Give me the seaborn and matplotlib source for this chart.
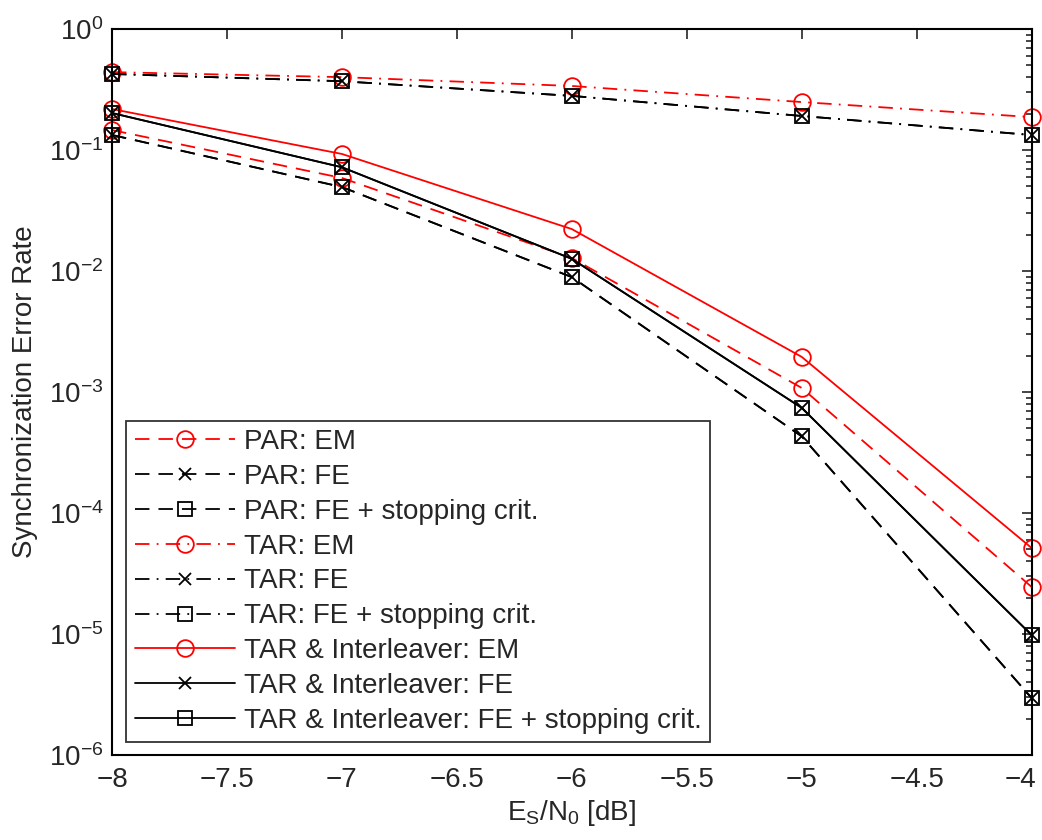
import numpy as np
import pandas as pd
import seaborn as sns
import matplotlib
matplotlib.use("Agg")
import matplotlib.pyplot as plt
import matplotlib.transforms as mtransforms
from matplotlib.ticker import LogLocator, NullFormatter

# SNR points (dB)
snr = [-8, -7, -6, -5, -4]

# synchronization error rates
par_em = [0.146, 0.0587, 0.0128, 1.08e-3, 2.45e-5]
par_fe = [0.133, 0.0494, 0.0089, 4.3e-4, 2.96e-6]
par_fe_stop = [0.133, 0.0494, 0.0089, 4.3e-4, 2.96e-6]
tar_em = [0.44, 0.40, 0.338, 0.249, 0.187]
tar_fe = [0.425, 0.37, 0.28, 0.191, 0.133]
tar_fe_stop = [0.425, 0.37, 0.28, 0.191, 0.133]
tari_em = [0.218, 0.0927, 0.0222, 1.95e-3, 5.14e-5]
tari_fe = [0.202, 0.072, 0.0126, 7.4e-4, 9.8e-6]
tari_fe_stop = [0.202, 0.072, 0.0126, 7.4e-4, 9.8e-6]

labels = ["PAR: EM", "PAR: FE", "PAR: FE + stopping crit.",
          "TAR: EM", "TAR: FE", "TAR: FE + stopping crit.",
          "TAR & Interleaver: EM", "TAR & Interleaver: FE",
          "TAR & Interleaver: FE + stopping crit."]
series = [par_em, par_fe, par_fe_stop, tar_em, tar_fe, tar_fe_stop,
          tari_em, tari_fe, tari_fe_stop]

# style per curve: color, linestyle, marker, markersize
dash = (0, (8, 5))
dashdot = (0, (8, 4, 1, 4))
styles = [("red", dash, "o", 12),
          ("black", dash, "x", 9),
          ("black", dash, "s", 10),
          ("red", dashdot, "o", 12),
          ("black", dashdot, "x", 9),
          ("black", dashdot, "s", 10),
          ("red", "-", "o", 12),
          ("black", "-", "x", 9),
          ("black", "-", "s", 10)]

sns.set_style("white")
plt.rcParams["font.family"] = ["Liberation Sans", "DejaVu Sans"]
plt.rcParams["mathtext.fontset"] = "custom"
plt.rcParams["mathtext.rm"] = "Liberation Sans"
plt.rcParams["mathtext.it"] = "Liberation Sans:italic"

fs = 20

fig = plt.figure(figsize=(10.42, 8.4), dpi=100)
ax = fig.add_axes([0.1075, 0.1012, 0.8825, 0.8643])

for lab, vals, (col, ls, mk, ms) in zip(labels, series, styles):
    df = pd.DataFrame({"snr": snr, "ser": vals})
    sns.lineplot(data=df, x="snr", y="ser", ax=ax, color=col, linestyle=ls,
                 marker=mk, markersize=ms, markerfacecolor="none",
                 markeredgecolor=col, markeredgewidth=1.3, linewidth=1.3,
                 label=lab, clip_on=False)

ax.set_yscale("log")
ax.set_xlim(-8, -4)
ax.set_ylim(1e-6, 1)
ax.set_xticks(np.arange(-8, -3.9, 0.5))
ax.set_xticklabels(["\u22128", "\u22127.5", "\u22127", "\u22126.5", "\u22126",
                    "\u22125.5", "\u22125", "\u22124.5", "\u22124"])
ax.yaxis.set_major_locator(LogLocator(base=10, numticks=10))
ax.yaxis.set_minor_locator(LogLocator(base=10, subs=np.arange(2, 10), numticks=100))
ax.yaxis.set_minor_formatter(NullFormatter())

ax.tick_params(which="both", direction="in", top=True, right=True,
               labelsize=fs, width=1.2)
ax.tick_params(axis="x", pad=9)
ax.tick_params(axis="y", pad=6)
ax.tick_params(which="major", length=7)
ax.tick_params(which="minor", length=4.5)
for sp in ax.spines.values():
    sp.set_linewidth(1.5)
    sp.set_color("black")

# keep the last x tick label inside the canvas
last = ax.get_xticklabels()[-1]
last.set_transform(last.get_transform() +
                   mtransforms.ScaledTranslation(-8 / 72, 0, fig.dpi_scale_trans))

ax.set_xlabel("E$_\\mathregular{S}$/N$_\\mathregular{0}$ [dB]", fontsize=fs, labelpad=3)
ax.set_ylabel("Synchronization Error Rate", fontsize=fs, labelpad=8)

leg = ax.legend(loc="lower left", bbox_to_anchor=(0.0155, 0.0175), fontsize=fs,
                handlelength=3.6, frameon=True, fancybox=False, edgecolor="black",
                borderpad=0.3, labelspacing=0.32, handletextpad=0.35,
                borderaxespad=0)
leg.get_frame().set_linewidth(1.3)

fig.savefig("out.png", dpi=100)
